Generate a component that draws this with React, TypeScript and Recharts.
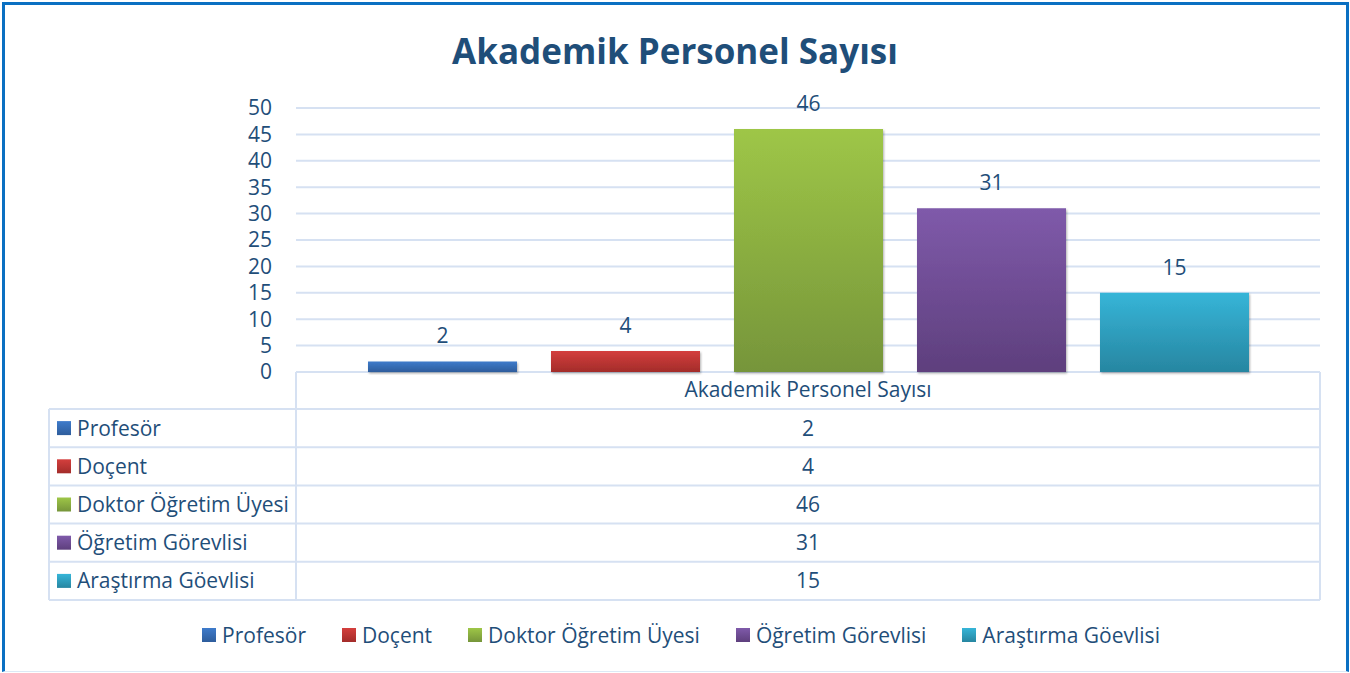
import React from "react";
import { BarChart, Bar, XAxis, YAxis, CartesianGrid, Legend, LabelList } from "recharts";

const categories = ["Akademik Personel Sayısı"];
const seriesNames = ["Profesör", "Doçent", "Doktor Öğretim Üyesi", "Öğretim Görevlisi", "Araştırma Göevlisi"];
const seriesValues = [2, 4, 46, 31, 15];
const yTicks = [0, 5, 10, 15, 20, 25, 30, 35, 40, 45, 50];
const colorsTop = ["#3E7BCB", "#D43F3D", "#9EC647", "#7F5AAA", "#36B5D8"];
const colorsBottom = ["#2E5D9C", "#A32C2A", "#76953A", "#5E3F7D", "#2786A1"];

const TEXT = "#1F4E79";
const GRID = "#D6E1F2";
const FONT = "'Open Sans', 'Noto Sans', sans-serif";
const FS = 21;

const seriesKeys = seriesNames.map((_, i) => `s${i}`);
const data = categories.map((c) => {
  const row: Record<string, string | number> = { name: c };
  seriesKeys.forEach((k, i) => {
    row[k] = seriesValues[i];
  });
  return row;
});

const W = 1350;
const H = 673;
const PLOT_LEFT = 296;
const PLOT_RIGHT = 1320;
const PLOT_BOTTOM = 372;
const TABLE_LEFT = 49;
const ROW_TOP = 409;
const ROW_H = 38.2;

function LegendContent(props: any) {
  const payload = [...(props.payload || [])].sort(
    (a: any, b: any) => seriesNames.indexOf(a.value) - seriesNames.indexOf(b.value)
  );
  return (
    <div style={{ display: "flex", justifyContent: "center", gap: 36, fontFamily: FONT, fontSize: FS, color: TEXT, lineHeight: "26px", paddingLeft: 12 }}>
      {payload.map((entry: any) => {
        const i = seriesNames.indexOf(entry.value);
        return (
          <div key={entry.value} style={{ display: "flex", alignItems: "center" }}>
            <span style={{ display: "inline-block", width: 14, height: 14, marginRight: 6, background: `linear-gradient(${colorsTop[i]}, ${colorsBottom[i]})` }} />
            <span>{entry.value}</span>
          </div>
        );
      })}
    </div>
  );
}

function DataTable() {
  const rows = seriesNames.length;
  const bottom = ROW_TOP + ROW_H * rows;
  return (
    <svg width={W} height={H} style={{ position: "absolute", left: 0, top: 0, pointerEvents: "none" }}>
      <defs>
        {seriesNames.map((_, i) => (
          <linearGradient key={i} id={`tg${i}`} x1="0" y1="0" x2="0" y2="1">
            <stop offset="0%" stopColor={colorsTop[i]} />
            <stop offset="100%" stopColor={colorsBottom[i]} />
          </linearGradient>
        ))}
      </defs>
      <line x1={PLOT_LEFT} y1={PLOT_BOTTOM} x2={PLOT_LEFT} y2={bottom} stroke={GRID} strokeWidth={2} />
      <line x1={PLOT_RIGHT} y1={PLOT_BOTTOM} x2={PLOT_RIGHT} y2={bottom} stroke={GRID} strokeWidth={2} />
      <line x1={TABLE_LEFT} y1={ROW_TOP} x2={TABLE_LEFT} y2={bottom} stroke={GRID} strokeWidth={2} />
      {Array.from({ length: rows + 1 }).map((_, r) => (
        <line key={r} x1={TABLE_LEFT} y1={ROW_TOP + ROW_H * r} x2={PLOT_RIGHT} y2={ROW_TOP + ROW_H * r} stroke={GRID} strokeWidth={2} />
      ))}
      {seriesNames.map((name, i) => {
        const cy = ROW_TOP + ROW_H * i + ROW_H / 2;
        return (
          <g key={name}>
            <rect x={57} y={cy - 7} width={14} height={14} fill={`url(#tg${i})`} />
            <text x={77} y={cy} dy="0.36em" fontFamily={FONT} fontSize={FS} fill={TEXT}>{name}</text>
            <text x={(PLOT_LEFT + PLOT_RIGHT) / 2} y={cy} dy="0.36em" textAnchor="middle" fontFamily={FONT} fontSize={FS} fill={TEXT}>{seriesValues[i]}</text>
          </g>
        );
      })}
    </svg>
  );
}

export default function App() {
  return (
    <div style={{ position: "absolute", left: 0, top: 0, width: W, height: H, background: "#fff", overflow: "hidden" }}>
      <div style={{ position: "absolute", left: 2, top: 2, width: 1347, height: 670, boxSizing: "border-box", borderLeft: "3px solid #0A70C2", borderTop: "3px solid #0A70C2", borderRight: "3px solid #0A70C2", borderBottom: "1px solid #DCE9F5" }} />
      <div style={{ position: "absolute", left: 0, top: 26, width: W, textAlign: "center", fontFamily: FONT, fontWeight: 700, fontSize: 35, color: TEXT, lineHeight: "50px" }}>
        Akademik Personel Sayısı
      </div>
      <div style={{ position: "absolute", left: 0, top: 0 }}>
        <BarChart
          width={W}
          height={H}
          data={data}
          margin={{ top: 108, right: W - PLOT_RIGHT, bottom: 264, left: 0 }}
          barCategoryGap={72}
          barGap={34}
          style={{ fontFamily: FONT }}
        >
          <defs>
            {seriesNames.map((_, i) => (
              <linearGradient key={i} id={`g${i}`} x1="0" y1="0" x2="0" y2="1">
                <stop offset="0%" stopColor={colorsTop[i]} />
                <stop offset="100%" stopColor={colorsBottom[i]} />
              </linearGradient>
            ))}
            <filter id="shadow" x="-10%" y="-10%" width="120%" height="130%">
              <feDropShadow dx="1" dy="1.5" stdDeviation="1.2" floodColor="#000" floodOpacity="0.3" />
            </filter>
          </defs>
          <CartesianGrid vertical={false} stroke={GRID} strokeWidth={2} />
          <XAxis dataKey="name" height={37} tickLine={false} axisLine={false} tickMargin={4} tick={{ fill: TEXT, fontSize: FS, fontFamily: FONT }} />
          <YAxis width={PLOT_LEFT} domain={[0, 50]} ticks={yTicks} interval={0} tickLine={false} axisLine={false} tickMargin={18} tick={{ fill: TEXT, fontSize: FS, fontFamily: FONT }} />
          <Legend
            content={<LegendContent />}
            wrapperStyle={{ position: "absolute", left: 0, top: 622, width: W, height: 0, overflow: "visible" }}
          />
          {seriesKeys.map((k, i) => (
            <Bar key={k} dataKey={k} name={seriesNames[i]} fill={`url(#g${i})`} isAnimationActive={false} filter="url(#shadow)">
              <LabelList dataKey={k} position="top" offset={18} fill={TEXT} fontSize={FS} fontFamily={FONT} />
            </Bar>
          ))}
        </BarChart>
      </div>
      <DataTable />
    </div>
  );
}
